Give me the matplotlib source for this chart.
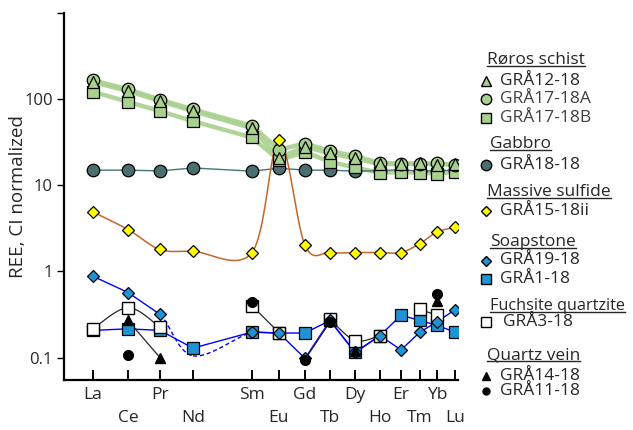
import numpy as np
import matplotlib
matplotlib.use("Agg")
import matplotlib.pyplot as plt
from matplotlib.lines import Line2D

plt.rcParams['font.family'] = ['Open Sans', 'DejaVu Sans']

# REE order and their spacing along the x axis
elements = ['La', 'Ce', 'Pr', 'Nd', 'Sm', 'Eu', 'Gd', 'Tb', 'Dy', 'Ho', 'Er', 'Tm', 'Yb', 'Lu']
element_x = [93, 128, 160, 193, 252, 279, 305, 330, 355, 380, 401, 420, 437, 455]

nan = np.nan
# Røros schist
gra12_18 = [158, 124, 95, 72.6, 46, 20.8, 28, 23.5, 20.5, 17.6, 17.6, 18.2, 17.2, 17.9]
gra17_18a = [166, 130, 99, 76, 49, 26, 30.5, 25.1, 21.8, 18.2, 17.9, 17.5, 18.2, 17.0]
gra17_18b = [122, 93, 72.6, 55.5, 35.9, 19.6, 24.4, 18.7, 16.1, 13.9, 14.3, 14.0, 13.7, 14.3]
# Gabbro
gra18_18 = [15.0, 15.0, 14.7, 15.9, 14.6, 15.8, 15.0, 15.0, 14.6, 14.8, 15.2, 14.6, 14.8, 15.0]
# Massive sulfide
gra15_18ii = [4.9, 3.07, 1.80, 1.72, 1.66, 33.4, 2.01, 1.66, 1.66, 1.66, 1.66, 2.11, 2.88, 3.24]
# Soapstone (Nd of GRÅ19-18 is an estimate, shown dashed)
gra19_18 = [0.88, 0.57, 0.318, 0.105, 0.198, 0.193, 0.098, 0.27, 0.115, 0.18, 0.123, 0.198, 0.26, 0.36]
gra19_18_estimated = ['Nd']
gra1_18 = [0.207, 0.216, 0.207, 0.129, 0.198, 0.193, 0.193, 0.27, 0.115, 0.18, 0.31, 0.27, 0.237, 0.198]
# Fuchsite quartzite
gra3_18 = [0.216, 0.38, 0.225, nan, 0.40, 0.195, nan, 0.28, 0.158, 0.18, nan, 0.363, 0.31, nan]
# Quartz vein
gra14_18 = [nan, 0.27, 0.10, nan, nan, nan, nan, nan, 0.12, nan, nan, nan, 0.46, nan]
gra11_18 = [nan, 0.106, nan, nan, 0.44, nan, 0.095, 0.26, nan, nan, nan, nan, 0.55, nan]

y_ticks = [0.1, 1, 10, 100, 1000]
y_tick_labels = ['0.1', '1', '10', '100', '']

GREEN = '#a9d18e'
GABBRO = '#4d6e6e'
SULFIDE = '#ffff00'
SOAP = '#1f93d3'
TEXT = '#262626'
FS = 12.5


def smooth_segment(x, y, i, n=24):
    """Excel-like smoothed (Catmull-Rom bezier) piece between point i and i+1, in log space"""
    ly = np.log10(y)
    p = np.column_stack([x, ly])
    p0 = p[max(i - 1, 0)]
    p1 = p[i]
    p2 = p[i + 1]
    p3 = p[min(i + 2, len(p) - 1)]
    c1 = p1 + (p2 - p0) / 6.0
    c2 = p2 - (p3 - p1) / 6.0
    t = np.linspace(0, 1, n)[:, None]
    pts = ((1 - t) ** 3) * p1 + 3 * ((1 - t) ** 2) * t * c1 + 3 * (1 - t) * t ** 2 * c2 + t ** 3 * p2
    return pts[:, 0], 10 ** pts[:, 1]


def smooth_line(x, y):
    """Smooth curve through each run of non-missing values"""
    x = np.asarray(x, float)
    y = np.asarray(y, float)
    ok = ~np.isnan(y)
    runs, cur = [], []
    for k in range(len(y)):
        if ok[k]:
            cur.append(k)
        elif cur:
            runs.append(cur)
            cur = []
    if cur:
        runs.append(cur)
    out = []
    for r in runs:
        if len(r) < 2:
            continue
        xs, ys = x[r], y[r]
        px, py = [], []
        for i in range(len(r) - 1):
            sx, sy = smooth_segment(xs, ys, i)
            px.extend(sx)
            py.extend(sy)
        out.append((px, py))
    return out


fig = plt.figure(figsize=(6.33, 4.30), dpi=100)
ax = fig.add_axes([64 / 633, 1 - 380 / 430, (458 - 64) / 633, (380 - 13) / 430])
ax.set_yscale('log')

x = np.array(element_x, float)

# Røros schist - pale green bands
for series in (gra17_18b, gra17_18a, gra12_18):
    ax.plot(x, series, color=GREEN, lw=3.2, alpha=0.9, solid_joinstyle='round', zorder=2)

# Gabbro
ax.plot(x, gra18_18, color='#3f7676', lw=1.0, zorder=3)
ax.plot(x, gra18_18, ls='none', marker='o', ms=9, mfc=GABBRO, mec='black', mew=0.9, zorder=4)

ax.plot(x, gra17_18b, ls='none', marker='s', ms=8.5, mfc=GREEN, mec='black', mew=0.9, zorder=5)
ax.plot(x, gra17_18a, ls='none', marker='o', ms=9, mfc=GREEN, mec='black', mew=0.9, zorder=5)
ax.plot(x, gra12_18, ls='none', marker='^', ms=8.5, mfc=GREEN, mec='black', mew=0.9, zorder=6)

# Massive sulfide
for px, py in smooth_line(x, gra15_18ii):
    ax.plot(px, py, color='#c4672a', lw=1.1, zorder=3)
ax.plot(x, gra15_18ii, ls='none', marker='D', ms=6.5, mfc=SULFIDE, mec='black', mew=0.9, zorder=7)

# Soapstone
est = [elements.index(e) for e in gra19_18_estimated]
soap_y = np.array(gra19_18, float)
for i in range(len(x) - 1):
    if i in est or (i + 1) in est:
        sx, sy = smooth_segment(x, soap_y, i)
        ax.plot(sx, sy, color='#0000ff', lw=1.0, ls=(0, (3, 2)), zorder=3)
    else:
        ax.plot(x[i:i + 2], soap_y[i:i + 2], color='#0000ff', lw=1.0, zorder=3)
ax.plot(x, gra1_18, color='#0000ff', lw=1.0, zorder=3)
ax.plot(x, gra1_18, ls='none', marker='s', ms=8.5, mfc=SOAP, mec='black', mew=0.9, zorder=6)
soap_marked = np.where(np.isin(np.arange(len(x)), est), np.nan, soap_y)
ax.plot(x, soap_marked, ls='none', marker='D', ms=6.5, mfc=SOAP, mec='black', mew=0.9, zorder=8)

# Fuchsite quartzite
for px, py in smooth_line(x, gra3_18):
    ax.plot(px, py, color=TEXT, lw=0.9, zorder=3)
ax.plot(x, gra3_18, ls='none', marker='s', ms=8.5, mfc='white', mec='black', mew=1.0, zorder=7)

# Quartz vein
ax.plot(x, gra14_18, color=TEXT, lw=0.9, zorder=3)
ax.plot(x, gra14_18, ls='none', marker='^', ms=7, mfc='black', mec='black', zorder=9)
ax.plot(x, gra11_18, color=TEXT, lw=0.9, zorder=3)
ax.plot(x, gra11_18, ls='none', marker='o', ms=7, mfc='black', mec='black', zorder=10)

# axes styling
ax.set_xlim(64, 458)
ax.set_ylim(0.055, 1000)
for side in ('top', 'right'):
    ax.spines[side].set_visible(False)
for side in ('left', 'bottom'):
    ax.spines[side].set_linewidth(1.6)
ax.set_yticks(y_ticks)
ax.set_yticklabels(y_tick_labels)
ax.yaxis.set_minor_locator(matplotlib.ticker.NullLocator())
ax.tick_params(axis='y', direction='out', length=5, width=1.0, labelsize=12, colors='black',
               labelcolor=TEXT, pad=3)
ax.set_xticks(x)
ax.set_xticklabels([])
ax.tick_params(axis='x', direction='in', length=7, width=1.4, colors='black')

ax.set_ylabel('REE, CI normalized', fontsize=13.5, color=TEXT)
ax.yaxis.set_label_coords(-0.095, 0.5)


# x data (pixel-like) to figure fraction for element labels
def data_x_to_fig(xd):
    x0, x1 = ax.get_xlim()
    pos = ax.get_position()
    return pos.x0 + (xd - x0) / (x1 - x0) * pos.width


# staggered element labels below the axis
for i, (xi, name) in enumerate(zip(x, elements)):
    ypx = 395 if i % 2 == 0 else 418
    fig.text(data_x_to_fig(xi), 1 - ypx / 430, name,
             ha='center', va='center', fontsize=FS, color=TEXT)

# custom legend: (header, x, y, header size, entries)
groups = [
    ('Røros schist', 487, 60, FS, [
        ('^', GREEN, 'black', 'GRÅ12-18', 81, 7.5, TEXT),
        ('o', GREEN, 'black', 'GRÅ17-18A', 99, 7.5, '#404040'),
        ('s', GREEN, 'black', 'GRÅ17-18B', 117.5, 7.0, '#404040'),
    ]),
    ('Gabbro', 490, 144, FS, [
        ('o', GABBRO, 'black', 'GRÅ18-18', 165.5, 7.5, TEXT),
    ]),
    ('Massive sulfide', 487, 192, FS, [
        ('D', SULFIDE, 'black', 'GRÅ15-18ii', 211.5, 5.5, TEXT),
    ]),
    ('Soapstone', 490, 242, FS, [
        ('D', SOAP, 'black', 'GRÅ19-18', 260.5, 5.5, TEXT),
        ('s', SOAP, 'black', 'GRÅ1-18', 279, 7.0, TEXT),
    ]),
    ('Fuchsite quartzite', 490, 306, 11.7, [
        ('s', 'white', 'black', 'GRÅ3-18', 321.5, 7.0, TEXT),
    ]),
    ('Quartz vein', 487, 355.5, FS, [
        ('^', 'black', 'black', 'GRÅ14-18', 376, 6.0, TEXT),
        ('o', 'black', 'black', 'GRÅ11-18', 391, 5.0, TEXT),
    ]),
]

headers = []
for title, hx, hy, hfs, entries in groups:
    h = fig.text(hx / 633, 1 - hy / 430, title, ha='left', va='center',
                 fontsize=hfs, color=TEXT, zorder=5)
    headers.append(h)
    for marker, fc, ec, label, ey, ms, tc in entries:
        fig.add_artist(Line2D([486 / 633], [1 - ey / 430], transform=fig.transFigure,
                              marker=marker, ms=ms, mfc=fc, mec=ec, mew=1.0, ls='none'))
        lx = 503 if label == 'GRÅ3-18' else 500
        fig.text(lx / 633, 1 - ey / 430, label, ha='left', va='center',
                 fontsize=FS, color=tc, zorder=4)

# underline the group headers
renderer = fig.canvas.get_renderer()
for h in headers:
    bb = h.get_window_extent(renderer)
    yline = (bb.y0 + 2.5) / fig.bbox.height
    fig.add_artist(Line2D([bb.x0 / fig.bbox.width, bb.x1 / fig.bbox.width], [yline, yline],
                          transform=fig.transFigure, color=TEXT, lw=1.0))

fig.savefig('out.png', dpi=100)
